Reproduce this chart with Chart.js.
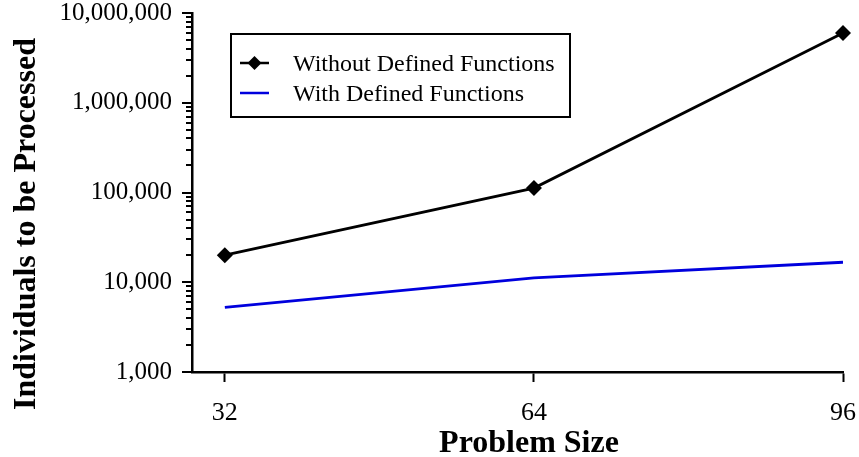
<!DOCTYPE html>
<html>
<head>
<meta charset="utf-8">
<script src="https://cdn.jsdelivr.net/npm/chart.js@4/dist/chart.umd.min.js"></script>
<style>
  html, body { margin: 0; padding: 0; background: #fff; }
  #wrap { width: 859px; height: 457px; }
</style>
</head>
<body>
<div id="wrap"><canvas id="chart"></canvas></div>
<script>
const problemSizes = [32, 64, 96];
const withoutDefined = [20000, 112000, 6000000];
const withDefined = [5250, 11200, 16700];
const yTicks = [1000, 10000, 100000, 1000000, 10000000];
const seriesNames = ['Without Defined Functions', 'With Defined Functions'];

const serif = "'Liberation Serif', 'Times New Roman', serif";

// log axis tick marks (long for decades, short for 2..9), axis titles, boxed legend
const decorations = {
  id: 'decorations',
  afterDraw(chart) {
    const ctx = chart.ctx;
    const y = chart.scales.y;
    const area = chart.chartArea;
    ctx.save();
    ctx.strokeStyle = '#000';
    ctx.lineWidth = 2;
    yTicks.forEach((d, i) => {
      let py = Math.round(y.getPixelForValue(d));
      ctx.beginPath();
      ctx.moveTo(area.left - 10, py);
      ctx.lineTo(area.left, py);
      ctx.stroke();
      if (i === yTicks.length - 1) return;
      for (let m = 2; m <= 9; m++) {
        py = Math.round(y.getPixelForValue(d * m));
        ctx.beginPath();
        ctx.moveTo(area.left - 6, py);
        ctx.lineTo(area.left, py);
        ctx.stroke();
      }
    });

    ctx.fillStyle = '#000';
    ctx.font = 'bold 32px ' + serif;
    ctx.textAlign = 'center';
    ctx.textBaseline = 'alphabetic';
    ctx.fillText('Problem Size', 529, 452);

    ctx.textBaseline = 'middle';
    ctx.translate(27, 224);
    ctx.rotate(-Math.PI / 2);
    ctx.fillText('Individuals to be Processed', 0, 0);
    ctx.setTransform(1, 0, 0, 1, 0, 0);

    // legend box
    ctx.lineWidth = 2;
    ctx.strokeRect(231, 34, 339, 83);
    ctx.font = '24px ' + serif;
    ctx.textAlign = 'left';
    chart.data.datasets.forEach((ds, i) => {
      const ly = 63 + i * 30;
      ctx.strokeStyle = ds.borderColor;
      ctx.lineWidth = 2.5;
      ctx.beginPath();
      ctx.moveTo(240, ly);
      ctx.lineTo(269, ly);
      ctx.stroke();
      if (ds.pointRadius > 0) {
        ctx.fillStyle = ds.backgroundColor;
        ctx.beginPath();
        ctx.moveTo(254.5, ly - 7);
        ctx.lineTo(261.5, ly);
        ctx.lineTo(254.5, ly + 7);
        ctx.lineTo(247.5, ly);
        ctx.closePath();
        ctx.fill();
      }
      ctx.fillStyle = '#000';
      ctx.fillText(ds.label, 293, ly + 2);
    });
    ctx.restore();
  }
};

new Chart(document.getElementById('chart'), {
  type: 'line',
  data: {
    datasets: [
      {
        label: seriesNames[0],
        data: problemSizes.map((x, i) => ({ x, y: withoutDefined[i] })),
        borderColor: '#000',
        backgroundColor: '#000',
        borderWidth: 2.8,
        pointStyle: 'rectRot',
        pointRadius: 8,
        pointBorderWidth: 0,
        clip: false
      },
      {
        label: seriesNames[1],
        data: problemSizes.map((x, i) => ({ x, y: withDefined[i] })),
        borderColor: '#0000dd',
        backgroundColor: '#0000dd',
        borderWidth: 2.8,
        pointRadius: 0
      }
    ]
  },
  options: {
    responsive: true,
    maintainAspectRatio: false,
    animation: false,
    layout: { padding: { top: 13, right: 16, left: 0, bottom: 0 } },
    plugins: {
      legend: { display: false },
      tooltip: { enabled: false }
    },
    scales: {
      x: {
        type: 'linear',
        min: 28.6,
        max: 96,
        afterBuildTicks: s => { s.ticks = problemSizes.map(v => ({ value: v })); },
        afterFit: s => { s.height = 85; s.paddingLeft = 0; s.paddingRight = 0; },
        border: { color: '#000', width: 2.5 },
        grid: { drawOnChartArea: false, tickLength: 10, tickWidth: 2, tickColor: '#000' },
        ticks: {
          color: '#000',
          font: { family: serif, size: 26, lineHeight: 1 },
          padding: 18,
          callback: v => String(v)
        }
      },
      y: {
        type: 'logarithmic',
        min: 1000,
        max: 10000000,
        afterBuildTicks: s => { s.ticks = yTicks.map(v => ({ value: v })); },
        afterFit: s => { s.width = 192; s.paddingTop = 0; s.paddingBottom = 0; },
        border: { color: '#000', width: 2.5 },
        grid: { drawOnChartArea: false, tickLength: 10, tickColor: 'rgba(0,0,0,0)' },
        ticks: {
          color: '#000',
          font: { family: serif, size: 25, lineHeight: 1 },
          padding: 10,
          callback: v => Number(v).toLocaleString('en-US')
        }
      }
    }
  },
  plugins: [decorations]
});
</script>
</body>
</html>
